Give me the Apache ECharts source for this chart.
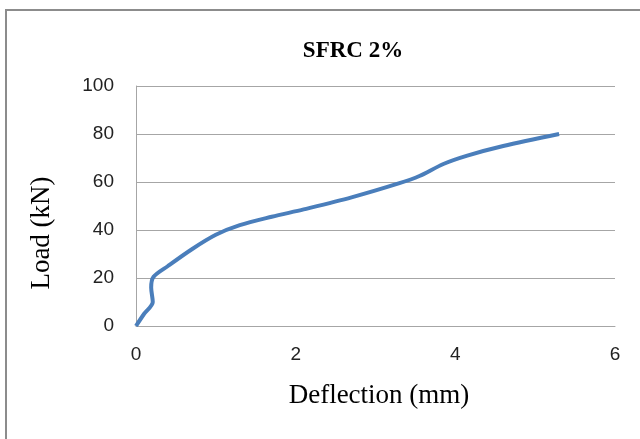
<!DOCTYPE html>
<html>
<head>
<meta charset="utf-8">
<script src="https://cdn.jsdelivr.net/npm/echarts@6/dist/echarts.min.js"></script>
<style>html,body{margin:0;padding:0;background:#fff;}#c{width:640px;height:439px;}</style>
</head>
<body>
<div id="c"></div>
<script>
var titleText = 'SFRC 2%';
var xAxisName = 'Deflection (mm)';
var yAxisName = 'Load (kN)';
var deflection = [0, 0.1, 0.21, 0.19, 0.22, 0.4, 0.7, 1.0, 1.3, 1.7, 2.1, 2.7, 3.3, 3.55, 3.85, 4.15, 4.6, 5.3];
var load =       [0, 5,   10,   16,   20.5, 25,  32,  38,  42,  45.5, 48.6, 53.6, 59.5, 62.5, 67.5, 71, 75, 80];
var xTicks = [0, 2, 4, 6];
var yTicks = [0, 20, 40, 60, 80, 100];

var seriesData = deflection.map(function (d, i) { return [d, load[i]]; });

var chart = echarts.init(document.getElementById('c'), null, {renderer: 'canvas'});
chart.setOption({
  animation: false,
  backgroundColor: '#fff',
  title: {
    text: titleText,
    left: 348, top: 35,
    textAlign: 'center',
    textStyle: {fontFamily: 'Liberation Serif', fontWeight: 'bold', fontSize: 23, color: '#000'}
  },
  grid: {left: 136, right: 25, top: 86, bottom: 113, containLabel: false},
  xAxis: {
    type: 'value', min: xTicks[0], max: xTicks[xTicks.length - 1], interval: 2,
    axisLine: {show: true, lineStyle: {color: '#a6a6a6', width: 1}},
    axisTick: {show: false},
    splitLine: {show: false},
    axisLabel: {fontFamily: 'Liberation Sans', fontSize: 19, color: '#222', margin: 19}
  },
  yAxis: {
    type: 'value', min: yTicks[0], max: yTicks[yTicks.length - 1], interval: 20,
    axisLine: {show: true, lineStyle: {color: '#a6a6a6', width: 1}},
    axisTick: {show: false},
    splitLine: {show: true, lineStyle: {color: '#a6a6a6', width: 1}},
    axisLabel: {fontFamily: 'Liberation Sans', fontSize: 19, color: '#222', margin: 22}
  },
  graphic: [
    {type: 'rect', shape: {x: 6, y: 10, width: 700, height: 500}, style: {fill: 'none', stroke: '#8c8c8c', lineWidth: 2}, silent: true, z: -1},
    {type: 'text', x: 379, y: 396, style: {text: xAxisName, fontFamily: 'Liberation Serif', fontSize: 27, fill: '#000', align: 'center', verticalAlign: 'middle'}},
    {type: 'text', x: 42, y: 233, rotation: Math.PI / 2, style: {text: yAxisName, fontFamily: 'Liberation Serif', fontSize: 27, fill: '#000', align: 'center', verticalAlign: 'middle'}}
  ],
  series: [{
    type: 'line',
    data: seriesData,
    smooth: 0.3,
    showSymbol: false,
    lineStyle: {color: '#4a7ebb', width: 4},
    itemStyle: {color: '#4a7ebb'}
  }]
});
</script>
</body>
</html>
